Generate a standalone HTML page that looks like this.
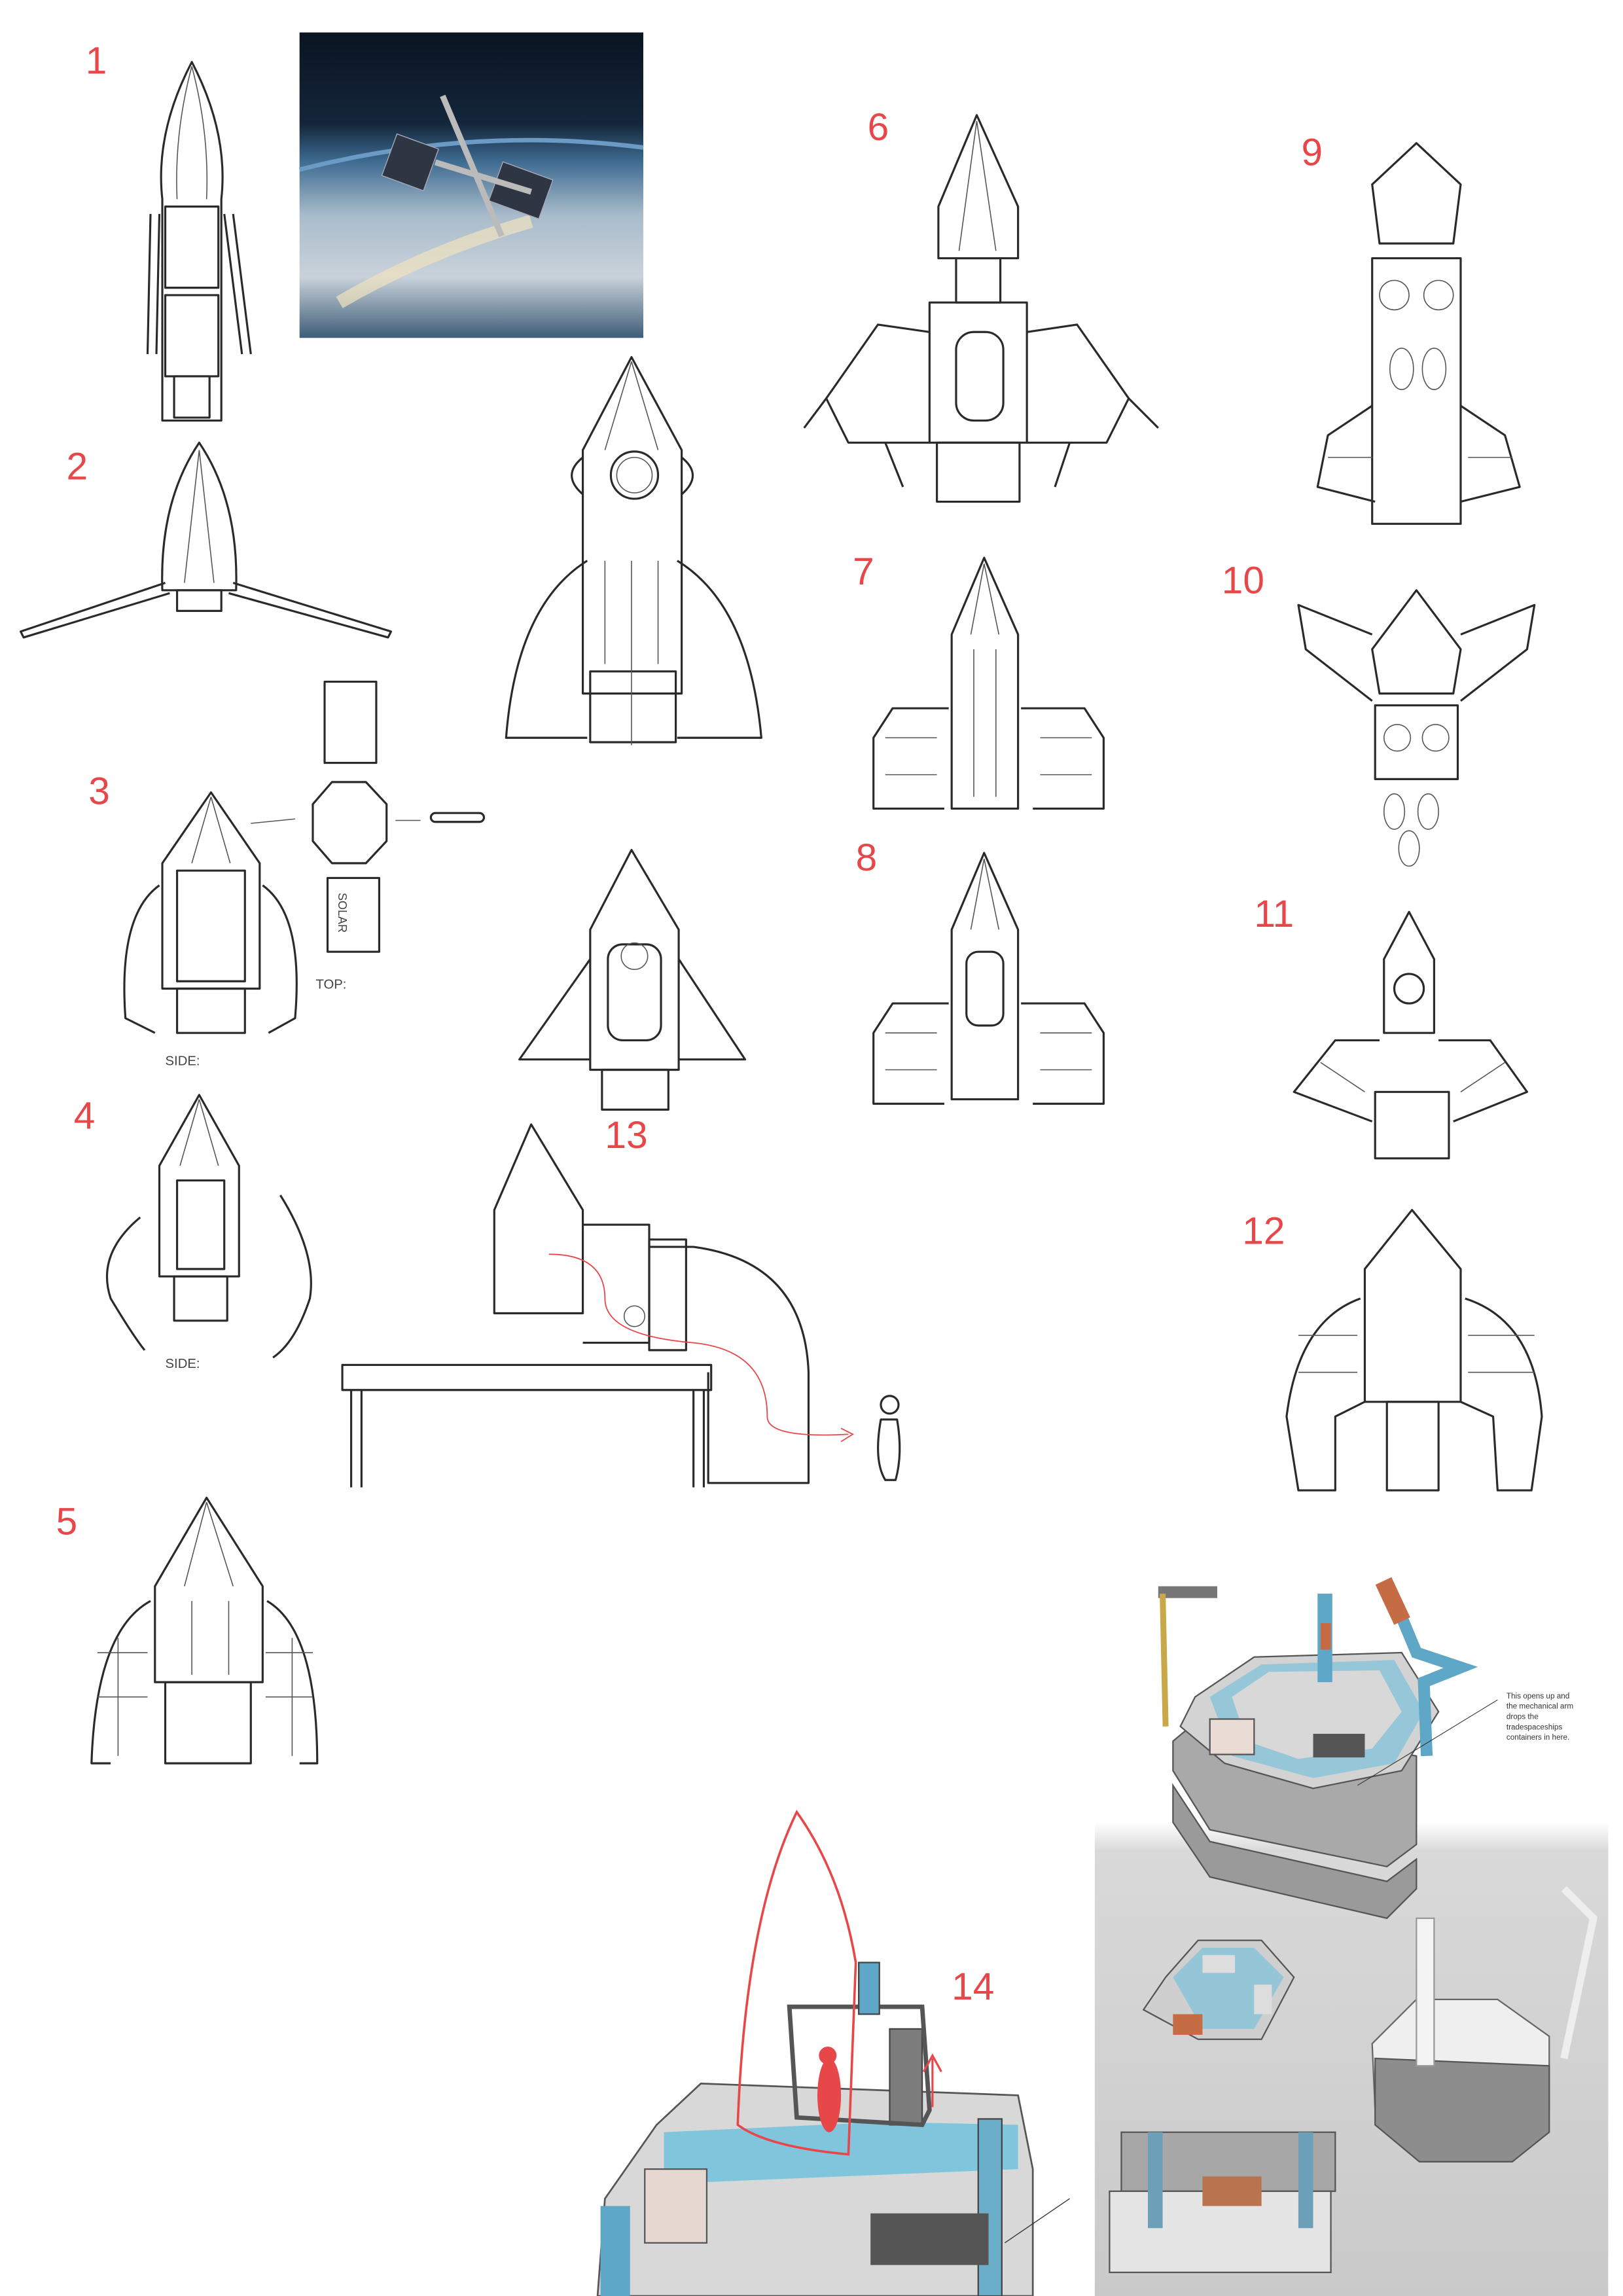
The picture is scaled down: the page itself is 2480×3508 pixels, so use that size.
<!DOCTYPE html>
<html><head><meta charset="utf-8"><style>
html,body{margin:0;padding:0;background:#fff}
svg{display:block}
.s{fill:none;stroke:#2a2a2a;stroke-width:1.4;stroke-linejoin:round}
.t{fill:none;stroke:#555;stroke-width:.7}
.r{fill:#e8474a;font-family:"Liberation Sans",sans-serif;font-size:26px}
</style></head><body>
<svg width="2480" height="3508" viewBox="0 0 1100 1556" xmlns="http://www.w3.org/2000/svg">
<defs>
<linearGradient id="sp" x1="0" y1="0" x2="0" y2="1"><stop offset="0" stop-color="#0a1422"/><stop offset=".3" stop-color="#14263a"/><stop offset=".42" stop-color="#3d6a90"/><stop offset=".6" stop-color="#a9bccb"/><stop offset=".8" stop-color="#c9d2da"/><stop offset="1" stop-color="#3e5d78"/></linearGradient>
<linearGradient id="gp" x1="0" y1="0" x2="0" y2="1"><stop offset="0" stop-color="#fff"/><stop offset=".06" stop-color="#d9d9d9"/><stop offset="1" stop-color="#c9c9c9"/></linearGradient>
</defs>
<rect width="1100" height="1556" fill="#fff"/>
<text class="r" x="58" y="50">1</text><text class="r" x="45" y="325">2</text>
<text class="r" x="60" y="545">3</text><text class="r" x="50" y="765">4</text>
<text class="r" x="38" y="1040">5</text><text class="r" x="588" y="95">6</text>
<text class="r" x="578" y="396">7</text><text class="r" x="580" y="590">8</text>
<text class="r" x="882" y="112">9</text><text class="r" x="828" y="402">10</text>
<text class="r" x="850" y="628">11</text><text class="r" x="842" y="843">12</text>
<text class="r" x="410" y="778">13</text><text class="r" x="645" y="1355">14</text>
<!-- photo -->
<rect x="203" y="22" width="233" height="207" fill="url(#sp)"/>
<path d="M203 115 Q320 85 436 100" stroke="#6b9bc4" stroke-width="3" fill="none"/>
<path d="M230 205 Q290 170 360 150" stroke="#f0e2bf" stroke-width="9" fill="none" opacity=".7"/>
<g fill="#2e3644" stroke="#aab" stroke-width=".6"><rect x="263" y="95" width="30" height="30" transform="rotate(20 278 110)"/><rect x="335" y="115" width="36" height="28" transform="rotate(20 353 129)"/><path d="M300 65 L340 160 M295 110 L360 130" stroke="#bbb" stroke-width="4"/></g>
<!-- 1 -->
<g><path class="s" d="M130 42 Q105 90 110 135 L110 285 L150 285 L150 135 Q155 90 130 42Z"/><path class="t" d="M130 45 Q118 90 120 135 M130 45 Q142 90 140 135"/><rect class="s" x="112" y="140" width="36" height="55"/><rect class="s" x="112" y="200" width="36" height="55"/><rect class="s" x="118" y="255" width="24" height="28"/><path class="s" d="M102 145 L100 240 M108 145 L106 240 M158 145 L170 240 M152 145 L164 240"/></g>
<!-- 2 -->
<g><path class="s" d="M135 300 Q108 340 110 400 L160 400 Q162 340 135 300Z"/><path class="t" d="M135 305 L125 395 M135 305 L145 395"/><path class="s" d="M112 395 L14 428 L16 432 L115 402 M158 395 L265 428 L263 432 L155 402"/><rect class="s" x="120" y="400" width="30" height="14"/></g>
<!-- big rocket -->
<g><path class="s" d="M428 242 L395 305 L395 470 L462 470 L462 305Z"/><path class="t" d="M428 245 L410 305 M428 245 L446 305"/><circle class="s" cx="430" cy="322" r="16"/><circle class="t" cx="430" cy="322" r="12"/><path class="s" d="M395 310 Q380 322 395 335 M462 310 Q477 322 462 335"/><path class="s" d="M398 380 Q350 410 343 500 L398 500 M459 380 Q508 410 516 500 L459 500"/><rect class="s" x="400" y="455" width="58" height="48"/><path class="t" d="M428 380 L428 505 M410 380 L410 450 M446 380 L446 450"/></g>
<!-- 3 -->
<g><path class="s" d="M143 537 L110 585 L110 670 L176 670 L176 585Z"/><path class="t" d="M143 540 L130 585 M143 540 L156 585"/><rect class="s" x="120" y="590" width="46" height="75"/><path class="s" d="M108 600 Q80 620 85 690 L105 700 M178 600 Q206 620 200 690 L182 700"/><rect class="s" x="120" y="670" width="46" height="30"/><text x="112" y="722" font-size="9" fill="#444" font-family="Liberation Sans">SIDE:</text>
<rect class="s" x="220" y="462" width="35" height="55"/><path class="s" d="M225 530 L248 530 L262 545 L262 570 L248 585 L225 585 L212 570 L212 545Z"/><rect class="s" x="222" y="595" width="35" height="50"/><text x="232" y="605" font-size="8" fill="#444" font-family="Liberation Sans" writing-mode="tb">SOLAR</text><text x="214" y="670" font-size="9" fill="#444" font-family="Liberation Sans">TOP:</text><rect class="s" x="292" y="551" width="36" height="6" rx="3"/><path class="t" d="M170 558 L200 555 M268 556 L285 556"/></g>
<!-- 4 -->
<g><path class="s" d="M135 742 L108 790 L108 865 L162 865 L162 790Z"/><path class="t" d="M135 745 L122 790 M135 745 L148 790"/><rect class="s" x="120" y="800" width="32" height="60"/><path class="s" d="M95 825 Q65 850 75 880 Q90 905 98 915 M190 810 Q215 850 210 880 Q200 910 185 920"/><rect class="s" x="118" y="865" width="36" height="30"/><text x="112" y="927" font-size="9" fill="#444" font-family="Liberation Sans">SIDE:</text></g>
<!-- 5 -->
<g><path class="s" d="M140 1015 L105 1075 L105 1140 L178 1140 L178 1075Z"/><path class="t" d="M140 1018 L125 1075 M140 1018 L158 1075 M130 1085 L130 1135 M155 1085 L155 1135"/><path class="s" d="M102 1085 Q65 1105 62 1195 L75 1195 M181 1085 Q215 1105 215 1195 L203 1195"/><path class="t" d="M66 1120 L100 1120 M66 1150 L100 1150 M180 1120 L212 1120 M180 1150 L212 1150 M80 1110 L80 1190 M198 1110 L198 1190"/><rect class="s" x="112" y="1140" width="58" height="55"/></g>
<!-- 6 -->
<g><path class="s" d="M662 78 L636 140 L636 175 L690 175 L690 140Z"/><path class="t" d="M662 82 L650 170 M662 82 L675 170"/><rect class="s" x="648" y="175" width="30" height="30"/><rect class="s" x="630" y="205" width="66" height="95"/><rect class="s" x="648" y="225" width="32" height="60" rx="12"/><path class="s" d="M630 225 L595 220 L560 270 L575 300 L630 300 M696 225 L730 220 L765 270 L750 300 L696 300" fill="#cfcfcf"/><path class="s" d="M560 270 L545 290 M765 270 L785 290 M600 300 L612 330 M725 300 L715 330"/><rect class="s" x="635" y="300" width="56" height="40"/></g>
<!-- 7 -->
<g><path class="s" d="M667 378 L645 430 L645 548 L690 548 L690 430Z"/><path class="t" d="M667 382 L658 430 M667 382 L677 430 M660 440 L660 540 M675 440 L675 540"/><path class="s" d="M643 480 L605 480 L592 500 L592 548 L640 548 M692 480 L735 480 L748 500 L748 548 L700 548"/><path class="t" d="M600 500 L635 500 M600 525 L635 525 M705 500 L740 500 M705 525 L740 525"/></g>
<!-- 8 -->
<g><path class="s" d="M667 578 L645 630 L645 745 L690 745 L690 630Z"/><path class="t" d="M667 582 L658 630 M667 582 L677 630"/><rect class="s" x="655" y="645" width="25" height="50" rx="8"/><path class="s" d="M643 680 L605 680 L592 700 L592 748 L640 748 M692 680 L735 680 L748 700 L748 748 L700 748"/><path class="t" d="M600 700 L635 700 M600 725 L635 725 M705 700 L740 700 M705 725 L740 725"/></g>
<!-- 9 -->
<g><path class="s" d="M960 97 L930 125 L935 165 L985 165 L990 125Z"/><rect class="s" x="930" y="175" width="60" height="180"/><circle class="t" cx="945" cy="200" r="10"/><circle class="t" cx="975" cy="200" r="10"/><ellipse class="t" cx="950" cy="250" rx="8" ry="14"/><ellipse class="t" cx="972" cy="250" rx="8" ry="14"/><path class="s" d="M930 275 L900 295 L893 330 L932 340 M990 275 L1020 295 L1030 330 L990 340"/><path class="t" d="M900 310 L930 310 M995 310 L1025 310"/></g>
<!-- 10 -->
<g><path class="s" d="M960 400 L930 440 L935 470 L985 470 L990 440Z"/><path class="s" d="M930 430 L880 410 L885 440 L930 475 M990 430 L1040 410 L1035 440 L990 475"/><rect class="s" x="932" y="478" width="56" height="50"/><circle class="t" cx="947" cy="500" r="9"/><circle class="t" cx="973" cy="500" r="9"/><ellipse class="t" cx="945" cy="550" rx="7" ry="12"/><ellipse class="t" cx="968" cy="550" rx="7" ry="12"/><ellipse class="t" cx="955" cy="575" rx="7" ry="12"/></g>
<!-- 11 -->
<g><path class="s" d="M955 618 L938 650 L938 700 L972 700 L972 650Z"/><circle class="s" cx="955" cy="670" r="10"/><path class="s" d="M935 705 L905 705 L877 740 L930 760 M975 705 L1010 705 L1035 740 L985 760"/><rect class="s" x="932" y="740" width="50" height="45"/><path class="t" d="M895 720 L925 740 M1020 720 L990 740"/></g>
<!-- 12 -->
<g><path class="s" d="M957 820 L925 860 L925 950 L990 950 L990 860Z"/><path class="s" d="M922 880 Q880 895 872 960 L880 1010 L905 1010 L905 960 L925 950 M993 880 Q1040 895 1045 960 L1038 1010 L1015 1010 L1012 960 L990 950"/><path class="t" d="M880 905 L920 905 M880 930 L920 930 M995 905 L1040 905 M995 930 L1040 930"/><rect class="s" x="940" y="950" width="35" height="60"/></g>
<!-- 13 -->
<g><path class="s" d="M428 576 L400 630 L400 725 L460 725 L460 630Z"/><rect class="s" x="412" y="640" width="36" height="65" rx="10"/><circle class="t" cx="430" cy="648" r="9"/><path class="s" d="M400 650 L352 718 L400 718 M460 650 L505 718 L460 718"/><rect class="s" x="408" y="725" width="45" height="27"/></g>
<!-- table scene -->
<g><path class="s" d="M360 762 L335 820 L335 890 L395 890 L395 820Z"/><path class="s" d="M395 830 L440 830 L440 910 L395 910 M440 845 L470 845 Q545 855 548 930 L548 1005 L480 1005 L480 930"/><rect class="s" x="440" y="840" width="25" height="75"/><circle class="t" cx="430" cy="892" r="7"/><rect class="s" x="232" y="925" width="250" height="17"/><path class="s" d="M238 942 L238 1008 M245 942 L245 1008 M470 942 L470 1008 M477 942 L477 1008"/><path d="M372 850 Q410 850 410 880 Q410 905 470 910 Q520 915 520 960 Q520 975 575 972" stroke="#e8474a" stroke-width=".8" fill="none"/><path d="M570 968 L578 972 L570 977" stroke="#e8474a" stroke-width=".8" fill="none"/><circle class="s" cx="603" cy="952" r="6"/><path class="s" d="M597 962 Q592 990 600 1003 L607 1003 Q612 985 608 962Z"/></g>
<!-- 14 platform -->
<g><path d="M445 1440 L475 1412 L690 1420 L700 1470 L700 1556 L405 1556 L410 1490Z" fill="#d8d8d8" stroke="#555" stroke-width="1.2"/><path d="M450 1445 L600 1438 L690 1440 L690 1470 L450 1480Z" fill="#6cc0de" opacity=".8"/><rect x="437" y="1470" width="42" height="50" fill="#e6d8d0" stroke="#555"/><rect x="407" y="1495" width="20" height="61" fill="#5fa7c6"/><rect x="603" y="1375" width="22" height="65" fill="#7c7c7c" stroke="#444"/><path d="M535 1360 L625 1360 L630 1430 L625 1440 L540 1435Z" fill="none" stroke="#555" stroke-width="3"/><rect x="582" y="1330" width="14" height="35" fill="#5fa7c6" stroke="#444"/><rect x="663" y="1436" width="16" height="120" fill="#6aaec9" stroke="#444"/><rect x="590" y="1500" width="80" height="35" fill="#555"/><path d="M681 1520 L725 1490" stroke="#333" stroke-width=".6"/>
<path d="M540 1228 Q505 1300 500 1440 Q520 1455 575 1460 L580 1330 Q570 1270 540 1228Z" fill="none" stroke="#e8474a" stroke-width="1.6"/><ellipse cx="562" cy="1420" rx="8" ry="25" fill="#e8474a"/><circle cx="561" cy="1393" r="6" fill="#e8474a"/><path d="M632 1428 L632 1395 M626 1404 L632 1393 L638 1404" stroke="#e8474a" stroke-width="1.4" fill="none"/></g>
<!-- right panel -->
<rect x="742" y="1235" width="348" height="322" fill="url(#gp)"/>
<g>
<path d="M795 1200 L820 1240 L940 1265 L960 1250 L960 1190 L900 1180 L825 1155 L795 1180Z" fill="#a9a9a9" stroke="#555"/>
<path d="M795 1210 L820 1248 L940 1275 L960 1260 L960 1280 L940 1300 L820 1272 L795 1235Z" fill="#9a9a9a" stroke="#555"/>
<path d="M810 1150 L850 1123 L950 1120 L975 1160 L950 1200 L890 1212 L830 1195 L800 1170Z" fill="#d3d3d3" stroke="#555"/>
<path d="M820 1150 L855 1128 L945 1125 L965 1160 L945 1195 L890 1205 L835 1190Z" fill="#6cc0de" opacity=".6"/>
<path d="M835 1150 L860 1133 L935 1132 L950 1160 L930 1185 L880 1192 L845 1180Z" fill="#d8d8d8"/>
<rect x="820" y="1165" width="30" height="24" fill="#e8dcd5" stroke="#555"/><rect x="890" y="1175" width="35" height="16" fill="#555"/>
<rect x="785" y="1075" width="40" height="8" fill="#777"/><path d="M788 1080 L790 1170" stroke="#c9a84a" stroke-width="4"/>
<rect x="893" y="1080" width="10" height="60" fill="#5fa7c6"/><rect x="895" y="1100" width="7" height="18" fill="#c66c44"/>
<path d="M940 1072 L960 1120 L990 1130 L965 1140 L967 1190" stroke="#5fa7c6" stroke-width="8" fill="none"/><rect x="938" y="1070" width="12" height="30" fill="#c66c44" transform="rotate(-25 944 1085)"/>
<text font-family="Liberation Sans" font-size="5.2" fill="#333"><tspan x="1021" y="1151">This opens up and</tspan><tspan x="1021" y="1158">the mechanical arm</tspan><tspan x="1021" y="1165">drops the</tspan><tspan x="1021" y="1172">tradespaceships</tspan><tspan x="1021" y="1179">containers in here.</tspan></text>
<path d="M1015 1152 L920 1210" stroke="#333" stroke-width=".5"/>
<path d="M790 1340 L812 1315 L855 1315 L877 1340 L855 1382 L812 1382 L775 1362Z" fill="#cfcfcf" stroke="#555"/>
<path d="M795 1340 L815 1320 L850 1320 L870 1340 L850 1375 L815 1375Z" fill="#6cc0de" opacity=".6"/>
<rect x="815" y="1325" width="22" height="12" fill="#ddd"/><rect x="850" y="1345" width="12" height="20" fill="#ddd"/><rect x="795" y="1365" width="20" height="14" fill="#c66c44"/>
<path d="M930 1385 L960 1355 L1015 1355 L1050 1380 L1050 1430 L1025 1445 L960 1445 L932 1430Z" fill="#efefef" stroke="#666"/>
<path d="M932 1395 L1050 1400 L1050 1445 L1025 1465 L962 1465 L932 1440Z" fill="#8d8d8d" stroke="#555"/>
<rect x="960" y="1300" width="12" height="100" fill="#f3f3f3" stroke="#999"/><path d="M1060 1280 L1080 1300 L1060 1395" stroke="#eee" stroke-width="5" fill="none"/>
<rect x="760" y="1445" width="145" height="40" fill="#a7a7a7" stroke="#555"/>
<rect x="752" y="1485" width="150" height="55" fill="#e5e5e5" stroke="#555"/>
<rect x="778" y="1445" width="10" height="65" fill="#6c9fb8"/><rect x="880" y="1445" width="10" height="65" fill="#6c9fb8"/><rect x="815" y="1475" width="40" height="20" fill="#b9734e"/>
</g>
</svg>
</body></html>
